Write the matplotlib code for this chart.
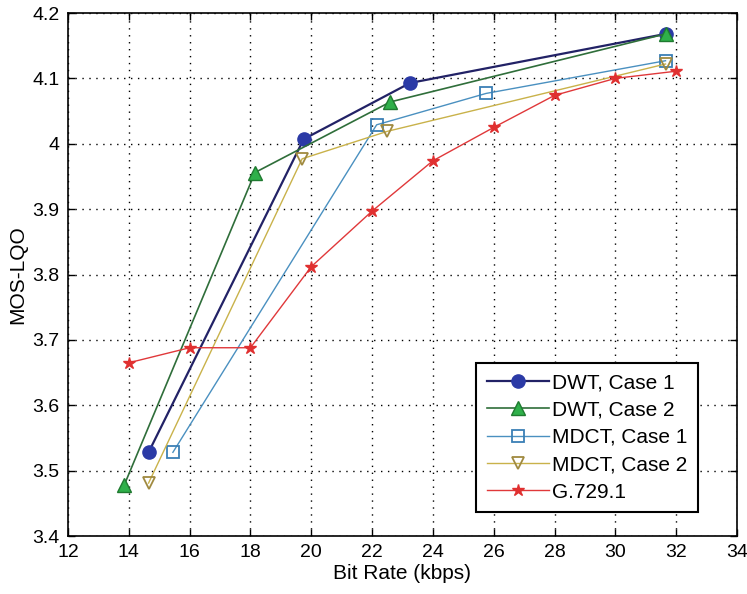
import matplotlib

matplotlib.use("Agg")

import matplotlib.pyplot as plt

plt.rcParams["font.family"] = ["Liberation Sans", "DejaVu Sans"]

# values
dwt1_x = [14.65, 19.75, 23.25, 31.65]
dwt1_y = [3.528, 4.007, 4.093, 4.168]
dwt2_x = [13.85, 18.15, 22.6, 31.65]
dwt2_y = [3.478, 3.956, 4.064, 4.168]
mdct1_x = [15.45, 22.15, 25.75, 31.65]
mdct1_y = [3.528, 4.029, 4.077, 4.127]
mdct2_x = [14.65, 19.7, 22.5, 31.65]
mdct2_y = [3.481, 3.977, 4.019, 4.122]
g729_x = [14, 16, 18, 20, 22, 24, 26, 28, 30, 32]
g729_y = [3.665, 3.688, 3.688, 3.812, 3.897, 3.974, 4.025, 4.074, 4.100, 4.111]

x_ticks = list(range(12, 35, 2))
y_ticks = [3.4, 3.5, 3.6, 3.7, 3.8, 3.9, 4.0, 4.1, 4.2]
y_labels = ["3.4", "3.5", "3.6", "3.7", "3.8", "3.9", "4", "4.1", "4.2"]

fig = plt.figure(figsize=(7.47, 5.94), dpi=100)
ax = fig.add_axes([0.091, 0.0976, 0.8956, 0.8805])

ax.plot(dwt1_x, dwt1_y, color="#222266", lw=1.6, marker="o", ms=9.5,
        mfc="#2b3aa6", mec="#2b3aa6", label="DWT, Case 1")
ax.plot(dwt2_x, dwt2_y, color="#2f6e3a", lw=1.2, marker="^", ms=9.5,
        mfc="#2fb04a", mec="#1f7a30", label="DWT, Case 2")
ax.plot(mdct1_x, mdct1_y, color="#4a90c0", lw=1.0, marker="s", ms=9,
        mfc="none", mec="#3a7fb5", mew=1.3, label="MDCT, Case 1")
ax.plot(mdct2_x, mdct2_y, color="#c9b24a", lw=1.0, marker="v", ms=9,
        mfc="none", mec="#a08a40", mew=1.3, label="MDCT, Case 2")
ax.plot(g729_x, g729_y, color="#e0383a", lw=1.0, marker="*", ms=9,
        mfc="#e03030", mec="#e03030", label="G.729.1")

ax.set_xlim(12, 34)
ax.set_ylim(3.4, 4.2)
ax.set_xticks(x_ticks)
ax.set_yticks(y_ticks)
ax.set_yticklabels(y_labels)
ax.tick_params(direction="in", top=True, right=True, labelsize=14, length=5,
               width=1.0, pad=6)
ax.grid(True, color="black", linestyle=(0, (1, 4)), linewidth=1.0)
for s in ax.spines.values():
    s.set_linewidth(1.2)

ax.set_xlabel("Bit Rate (kbps)", fontsize=15, labelpad=2)
ax.set_ylabel("MOS-LQO", fontsize=15, labelpad=4)

leg = ax.legend(loc="lower right", bbox_to_anchor=(0.942, 0.046),
                borderaxespad=0, fancybox=False, framealpha=1,
                edgecolor="black", fontsize=15, handlelength=3.0,
                handletextpad=0.15, labelspacing=0.4, borderpad=0.5)
leg.get_frame().set_linewidth(1.5)

fig.savefig("out.png", dpi=100)
plt.close(fig)
